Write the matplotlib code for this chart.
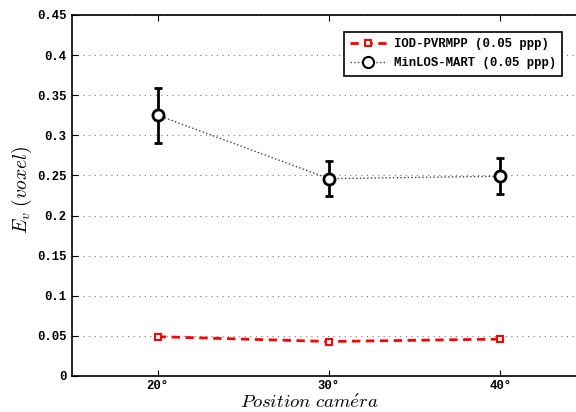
import matplotlib
matplotlib.use("Agg")
import matplotlib.pyplot as plt
from matplotlib.lines import Line2D

positions = [20, 30, 40]
xtick_labels = ["20°", "30°", "40°"]
iod_values = [0.049, 0.043, 0.046]
minlos_values = [0.325, 0.246, 0.249]
minlos_err = [0.034, 0.022, 0.0225]
yticks = [0, 0.05, 0.1, 0.15, 0.2, 0.25, 0.3, 0.35, 0.4, 0.45]
ytick_labels = ["0", "0.05", "0.1", "0.15", "0.2", "0.25", "0.3", "0.35", "0.4", "0.45"]
labels = ['IOD-PVRMPP (0.05 ppp)', 'MinLOS-MART (0.05 ppp)']

plt.rcParams['mathtext.fontset'] = 'cm'
mono = {'family': 'Liberation Mono', 'weight': 'bold', 'size': 8.8}

fig = plt.figure(figsize=(5.76, 4.12), dpi=100)
W, H = 576, 412
ax = fig.add_axes([72 / W, (H - 376) / H, (586 - 72) / W, (376 - 15) / H])

iod_style = dict(color='red', linestyle=(0, (3, 2)), linewidth=2,
                 marker='s', markersize=5, markerfacecolor='white', markeredgecolor='red',
                 markeredgewidth=1.5)
ax.plot(positions, iod_values, zorder=3, **iod_style)
ax.errorbar(positions, minlos_values, yerr=minlos_err, color='#444444', linestyle=':',
            linewidth=1, marker='o', markersize=8, markerfacecolor='white',
            markeredgecolor='black', markeredgewidth=2, ecolor='black', elinewidth=2,
            capsize=3, capthick=2, zorder=4)

ax.set_xlim(15, 45)
ax.set_ylim(0, 0.45)
ax.set_xticks(positions)
ax.set_xticklabels(xtick_labels, fontdict=mono)
ax.set_yticks(yticks)
ax.set_yticklabels(ytick_labels, fontdict=mono)
ax.tick_params(direction='in', top=True, right=False, length=4, width=0.8, pad=4)
ax.tick_params(axis='x', pad=3)
ax.yaxis.grid(True, linestyle=(0, (1, 4)), color='#777777', linewidth=0.8)
for s in ax.spines.values():
    s.set_linewidth(1.2)

fig.text(309 / W, 1 - 408 / H, r'$Position\ cam\acute{e}ra$', fontsize=13.5,
         ha='center', va='baseline')
fig.text(22 / W, 1 - 190 / H, r'$E_v\ (voxel)$', fontsize=14, rotation=90,
         ha='center', va='center')

handles = [
    Line2D([], [], **iod_style),
    Line2D([], [], color='#444444', linestyle=':', linewidth=1, marker='o', markersize=8,
           markerfacecolor='white', markeredgecolor='black', markeredgewidth=1.5),
]
leg = fig.legend(handles, labels, loc='upper left', bbox_to_anchor=(344 / W, 1 - 32 / H),
                 bbox_transform=fig.transFigure, borderaxespad=0,
                 prop={'family': 'Liberation Mono', 'weight': 'bold', 'size': 8.8},
                 frameon=True, fancybox=False, edgecolor='black', framealpha=1,
                 handlelength=3, handletextpad=0.6, borderpad=0.5, labelspacing=0.6)
leg.get_frame().set_linewidth(1.2)

fig.savefig('out.png', dpi=100)
